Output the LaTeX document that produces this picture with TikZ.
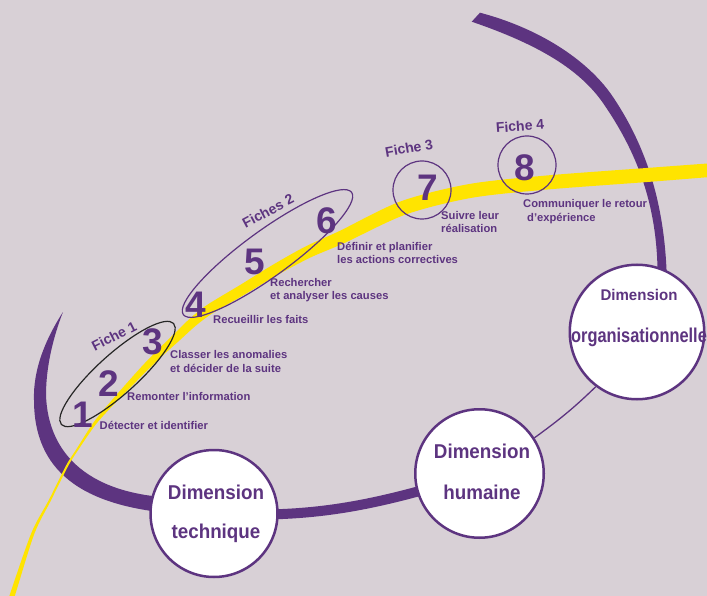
\documentclass[tikz,border=0pt]{standalone}
\usepackage{fontspec}
\setmainfont{Liberation Sans}
\usepackage{graphicx}
\usetikzlibrary{shapes.geometric}
\pgfdeclarelayer{bgl}
\pgfdeclarelayer{back}
\pgfsetlayers{bgl,back,main}
\definecolor{bgc}{RGB}{216,208,214}
\definecolor{pur}{RGB}{93,52,128}
\definecolor{yel}{RGB}{255,228,0}
\begin{document}
\begin{tikzpicture}[x=1pt,y=-1pt,
  dimcirc/.style={circle,draw=pur,line width=2.5pt,fill=white,inner sep=0pt,minimum size=#1},
  dimtxt/.style={text=pur,font=\fontsize{20}{20}\selectfont\bfseries,inner sep=0pt,anchor=base},
  dimsmall/.style={dimtxt,font=\fontsize{15.5}{15.5}\selectfont\bfseries},
  num/.style={text=pur,font=\fontsize{37}{37}\selectfont\bfseries,inner sep=0pt},
  lab/.style={text=pur,font=\fontsize{11.2}{13}\selectfont\bfseries,inner sep=0pt,anchor=base west},
  fiche/.style={text=pur,font=\fontsize{14}{14}\selectfont\bfseries,inner sep=0pt},
  grp/.style={draw=pur,line width=1.2pt,inner sep=0pt},
  band/.style={fill=pur},
]
\useasboundingbox (0,0) rectangle (707,596);
\begin{pgfonlayer}{bgl}
\fill[bgc] (0,0) rectangle (707,596);
\end{pgfonlayer}

% dimension circles
\node[dimcirc=127pt] (tech) at (214,513.5) {};
\node[dimcirc=128.5pt] (hum) at (479.5,473.5) {};
\node[dimcirc=134.5pt] (org) at (637,332) {};
\node[dimtxt] (t1) at (216,499) {\scalebox{0.94}[1]{Dimension}};
\node[dimtxt] (t2) at (216,538) {\scalebox{0.94}[1]{technique}};
\node[dimtxt] (h1) at (482,458) {\scalebox{0.94}[1]{Dimension}};
\node[dimtxt] (h2) at (482,499) {\scalebox{0.94}[1]{humaine}};
\node[dimsmall] (o1) at (639,301) {\scalebox{0.97}[1]{Dimension}};
\node[dimtxt] (o2) at (639,342) {\scalebox{0.82}[1]{organisationnelle}};

% purple bands, connector, yellow path
\begin{pgfonlayer}{back}
\fill[band] (63,312) .. controls (45,340) and (33,370) .. (34,400)
  .. controls (34,470) and (80,507) .. (180,514)
  -- (180,498) .. controls (90,496) and (48,455) .. (46,395)
  .. controls (46,365) and (54,335) .. (63,312) -- cycle;
\draw[pur,line width=10pt] (tech.center) to[out=-3,in=197] (hum.center);
\draw[pur,line width=1.3pt] (hum.33) to[out=36,in=224] (org.233);
\fill[band] (480,12.7) .. controls (545,30) and (591,64) .. (613,97)
  .. controls (652,155) and (668,220) .. (667,300)
  -- (657,300) .. controls (661,225) and (646,165) .. (603,103)
  .. controls (580.2,70.2) and (540,45) .. (471.7,21.7) -- cycle;
\fill[yel] plot[smooth] coordinates {(8.6,599.3) (11.6,589.2) (31.6,532.4) (49.1,499.5) (66.1,465.5) (76.2,449.5) (93.8,422.1) (113.3,398.5) (140.6,367.7) (157.4,350.3) (174.1,333.9) (190.0,318.5) (207.3,304.8) (239.3,285.5) (272.2,265.2) (305.3,246.6) (339.3,231.1) (400.6,201.4) (468.8,184.1) (546.4,175.5) (646.5,168.0) (711.5,163.2)}
  -- plot[smooth] coordinates {(712.5,176.8) (647.5,182.0) (547.6,189.5) (471.2,197.9) (405.4,214.6) (344.7,242.9) (310.7,257.4) (277.8,274.8) (244.7,294.5) (212.7,313.2) (196.0,325.5) (179.9,340.1) (162.6,355.7) (145.4,372.3) (116.7,401.5) (96.2,423.9) (77.8,450.5) (67.9,466.5) (50.9,500.5) (34.4,533.6) (16.4,590.8) (13.4,600.7)} -- cycle;
\end{pgfonlayer}

% groupings
\node[grp,draw=black!85,ellipse,minimum width=151pt,minimum height=40pt,rotate=42] (f1) at (117.5,374) {};
\node[grp,ellipse,minimum width=208pt,minimum height=46pt,rotate=36] (f2) at (267.5,253.5) {};
\node[grp,circle,minimum size=58pt] (f3) at (422,190) {};
\node[grp,circle,minimum size=58pt] (f4) at (527,165) {};
\node[fiche,rotate=27] (lf1) at (114,336) {Fiche 1};
\node[fiche,rotate=28] (lf2) at (268,211) {Fiches 2};
\node[fiche,rotate=10] (lf3) at (409,148) {Fiche 3};
\node[fiche,rotate=4] (lf4) at (520,126) {Fiche 4};

% numbers
\node[num] (n1) at (83,415) {1};
\node[num] (n2) at (109,384) {2};
\node[num] (n3) at (153,342) {3};
\node[num] (n4) at (196,305) {4};
\node[num] (n5) at (255,262) {5};
\node[num] (n6) at (327,221) {6};
\node[num] (n7) at (428,188) {7};
\node[num] (n8) at (525,168) {8};

% labels
\node[lab] (l1) at (99.5,429.5) {Détecter et identifier};
\node[lab] (l2) at (127,400) {Remonter l'information};
\node[lab] (l3a) at (170,358.5) {Classer les anomalies};
\node[lab] (l3b) at (170,372.5) {et décider de la suite};
\node[lab] (l4) at (213,323.5) {Recueillir les faits};
\node[lab] (l5a) at (270,286.5) {Rechercher};
\node[lab] (l5b) at (270,299.5) {et analyser les causes};
\node[lab] (l6a) at (337,251) {Définir et planifier};
\node[lab] (l6b) at (337,264) {les actions correctives};
\node[lab] (l7a) at (441,220) {Suivre leur};
\node[lab] (l7b) at (441,233) {réalisation};
\node[lab] (l8a) at (523,208) {Communiquer le retour};
\node[lab] (l8b) at (527,222) {d'expérience};
\end{tikzpicture}
\end{document}
